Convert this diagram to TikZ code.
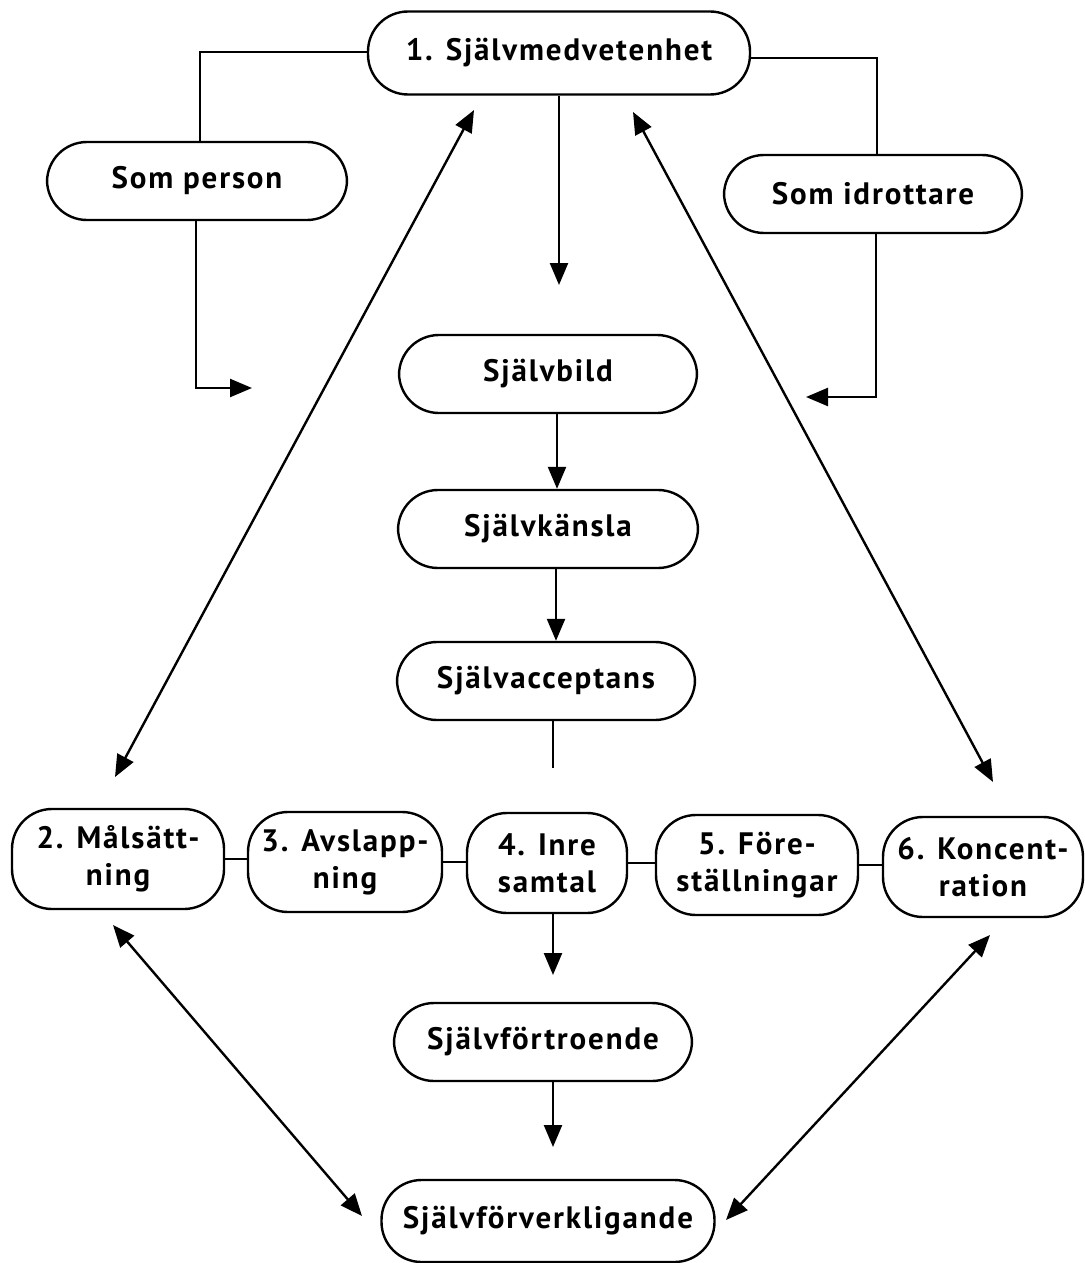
\documentclass[tikz,border=0pt]{standalone}
\usepackage{fontspec}
\setmainfont{PT Sans}[LetterSpace=6]
\usetikzlibrary{arrows.meta}
\begin{document}
\begin{tikzpicture}[x=0.5pt,y=-0.5pt,
  box/.style={draw, line width=1.2pt, rounded corners=20pt, align=center,
    font=\bfseries\fontsize{15.5}{18.5}\selectfont, inner sep=0pt},
  wide/.style={box, minimum width=149pt, minimum height=39pt},
  tall/.style={box, minimum height=50pt},
  link/.style={line width=1.2pt},
  arr/.style={line width=1.2pt, -{Triangle[length=11pt,width=9pt]}},
  dbl/.style={line width=1.2pt, {Triangle[length=11pt,width=9pt]}-{Triangle[length=11pt,width=9pt]}}]
\useasboundingbox (0,0) rectangle (1085,1263);

% top level
\node[box, minimum width=191pt, minimum height=41.5pt] (top) at (559,53) {1. Självmedvetenhet};
\node[wide, minimum width=150pt] (person) at (197,181) {Som person};
\node[wide] (idrott) at (873,194) {Som idrottare};

% central column
\node[wide] (bild) at (548,374) {Självbild};
\node[wide, minimum width=150pt] (kansla) at (548,529) {Självkänsla};
\node[wide] (accept) at (546,681) {Självacceptans};

% row of techniques
\node[tall, minimum width=106pt] (mal) at (118,859) {2. Målsätt-\\ning};
\node[tall, minimum width=97pt] (avsl) at (345,862) {3. Avslapp-\\ning};
\node[tall, minimum width=80pt] (inre) at (547,863) {4. Inre\\samtal};
\node[tall, minimum width=101pt] (fore) at (757,865) {5. Före-\\ställningar};
\node[tall, minimum width=100pt] (konc) at (983,867) {6. Koncent-\\ration};

% lower column
\node[wide] (fortro) at (543,1042) {Självförtroende};
\node[box, minimum width=166.5pt, minimum height=41pt] (forverk) at (548,1221) {Självförverkligande};

% free ends of connectors
\coordinate (topend) at (559,285);
\coordinate (pend) at (252,388);
\coordinate (iend) at (806,397);
\coordinate (accend) at (553,768);
\coordinate (inreend) at (553,975);
\coordinate (fortend) at (553,1147);
\coordinate (ulA) at (474,110);
\coordinate (ulB) at (115,777);
\coordinate (urA) at (633,112);
\coordinate (urB) at (993,782);
\coordinate (llA) at (113,925);
\coordinate (llB) at (362,1216);
\coordinate (lrA) at (990,935);
\coordinate (lrB) at (726,1220);

% branches to the two perspectives
\draw[link] (top.west |- 0,52) -| (person.north -| 200,0);
\draw[arr] (person.south -| 196,0) |- (pend);
\draw[link] (top.east |- 0,58) -| (idrott.north -| 877,0);
\draw[arr] (idrott.south -| 876,0) |- (iend);

% central chain
\draw[arr] (top.south -| topend) -- (topend);
\draw[arr] (bild.south -| 557,0) -- (kansla.north -| 557,0);
\draw[arr] (kansla.south -| 556,0) -- (accept.north -| 556,0);
\draw[link] (accept.south -| accend) -- (accend);
\draw[arr] (inre.south -| inreend) -- (inreend);
\draw[arr] (fortro.south -| fortend) -- (fortend);

% links within the row
\draw[link] (mal.east) -- (avsl.west |- mal.east);
\draw[link] (avsl.east) -- (inre.west |- avsl.east);
\draw[link] (inre.east) -- (fore.west |- inre.east);
\draw[link] (fore.east) -- (konc.west |- fore.east);

% two-way relations
\draw[dbl] (ulA) -- (ulB);
\draw[dbl] (urA) -- (urB);
\draw[dbl] (llA) -- (llB);
\draw[dbl] (lrA) -- (lrB);
\end{tikzpicture}
\end{document}
